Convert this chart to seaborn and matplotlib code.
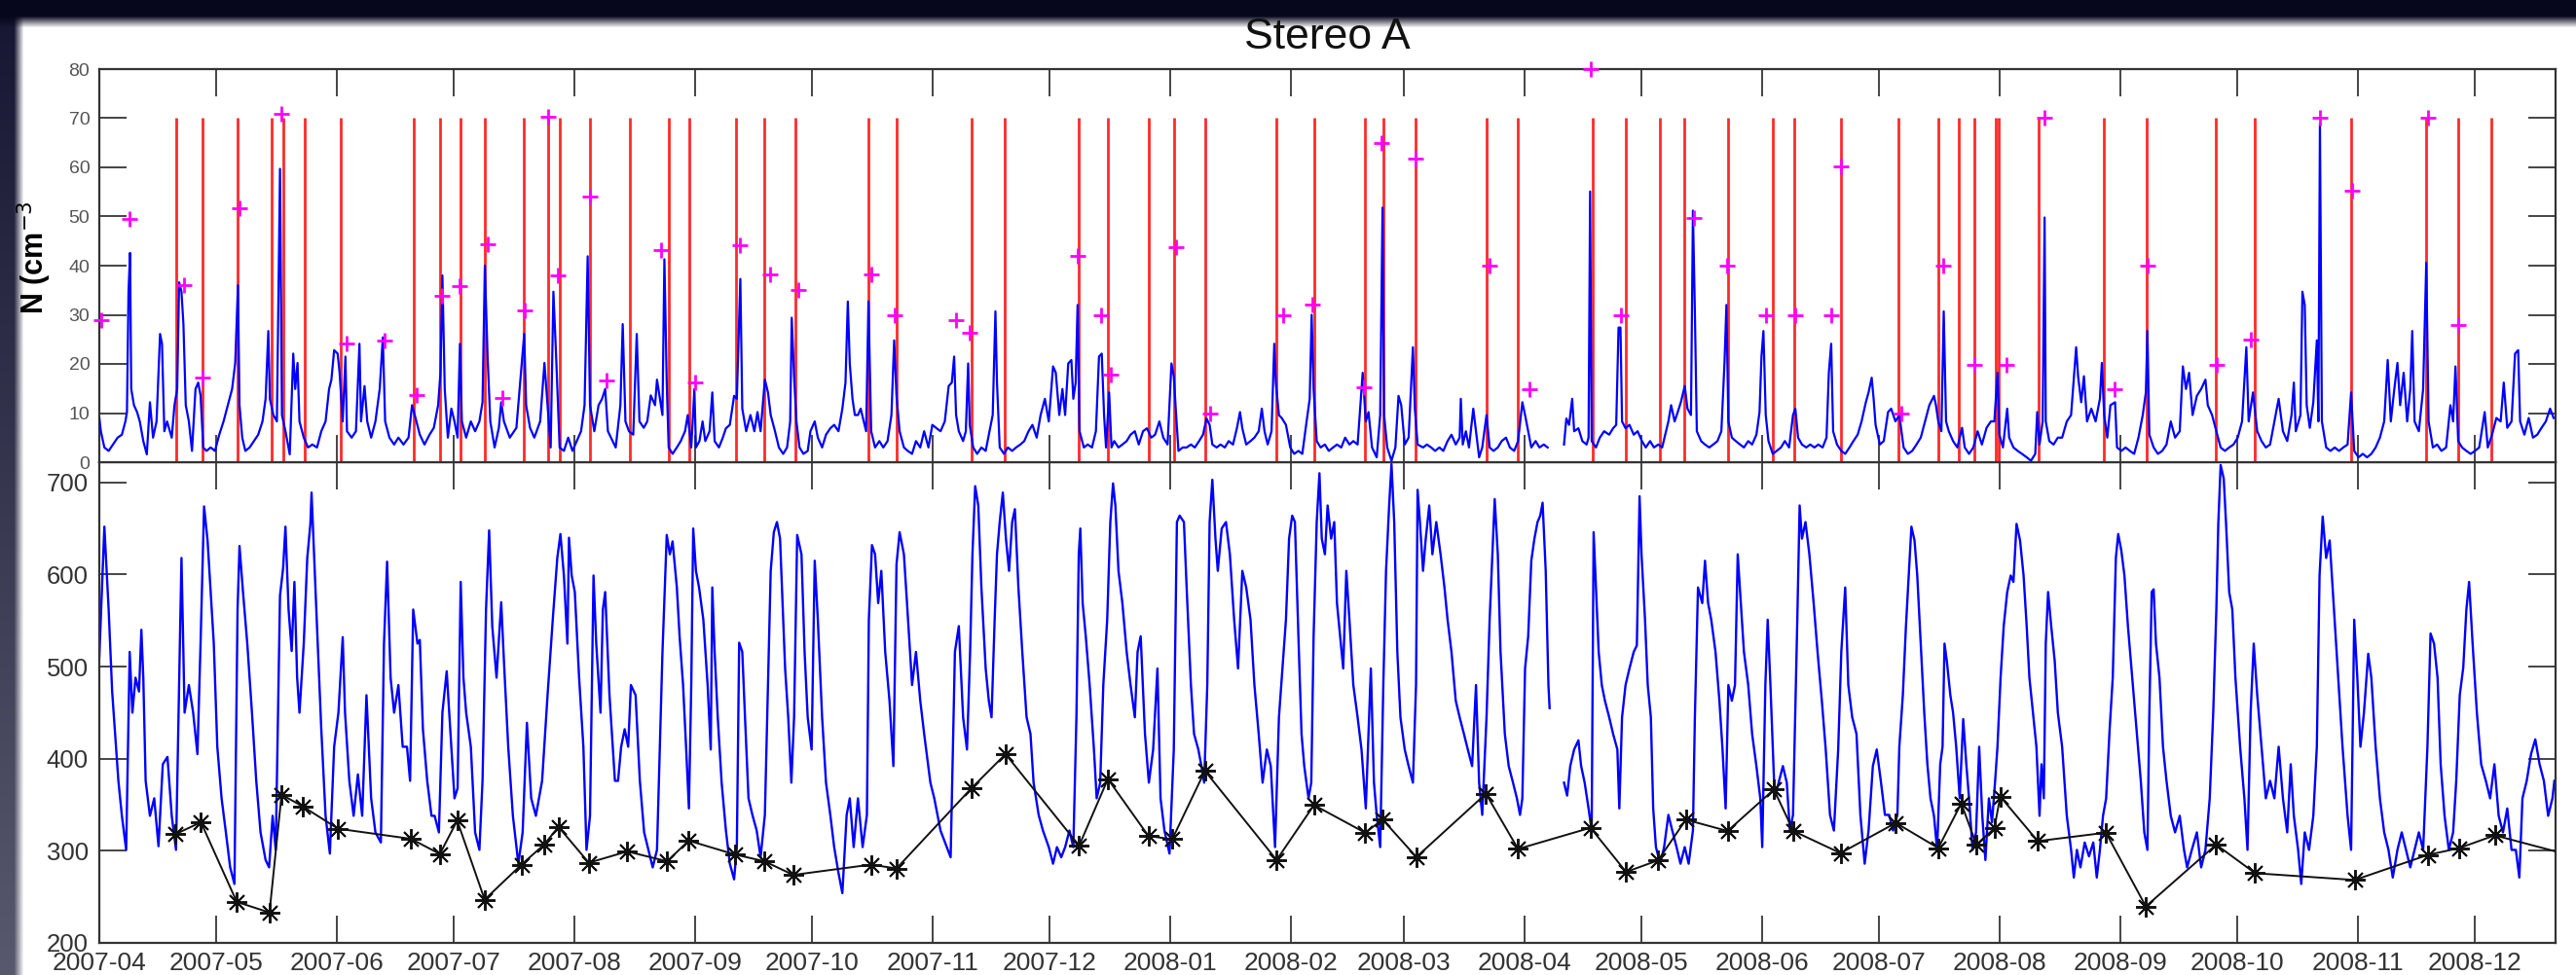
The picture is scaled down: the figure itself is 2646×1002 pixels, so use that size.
import numpy as np
import pandas as pd
import matplotlib
matplotlib.use("Agg")
import matplotlib.pyplot as plt
import matplotlib.dates as mdates
import seaborn as sns

plt.rcParams['font.family'] = ['Liberation Sans', 'DejaVu Sans']

# ---------------- data (days since 2007-04-01) ----------------
START = pd.Timestamp("2007-04-01")
END_DAY = 630.7
GAP_SPLIT = 374.0   # data gap in both series around day 372-376

title_text = "Stereo A"
density_label = "N (cm$^{-3}$"
density_ticks = [0, 10, 20, 30, 40, 50, 60, 70, 80]
speed_ticks = [200, 300, 400, 500, 600, 700]

# solar wind density N (cm^-3)
density_pairs = [
(0,9),(0.4,6.3),(1.3,3),(2.4,2.3),(3.5,3.6),(4.7,5),(5.8,5.6),(6.7,8.3),(7.1,10.2),(7.5,34.7),(7.9,42.6),(8.2,14.9),(8.9,11.6),(9.7,10.2),(10.4,8.3),(11.3,4.3),(12.2,1.6),(13,12.2),(13.8,5),(14.7,8.3),(15.6,26.1),(16.1,24.1),(16.7,6.3),(17.4,8.3),(18.6,5),(19.3,11.6),(20,14.9),(20.5,36.6),(21.1,34.7),(21.6,28.1),(22.2,11.6),(23,8.3),(23.8,2.3),(24.7,14.9),(25.4,16.2),(26,13.6),(26.7,3),(27.5,2.3),(28.6,3),(29.7,2.3),(30.8,5.6),(31.9,8.3),(33,11.6),(34.1,14.9),(34.9,20.2),(35.6,36),(36,11.6),(36.7,5),(37.5,2.3),(38.6,3),(39.7,4.3),(40.8,5.6),(41.9,8.3),(42.7,12.9),(43.4,26.7),(43.8,12.9),(44.7,9.6),(45.6,8.3),(46.4,59.7),(46.9,9.6),(47.8,6.3),(48.9,1.6),(49.8,22.1),(50.3,14.9),(50.9,20.2),(51.4,8.3),(52.5,5),(53.6,3),(54.7,3.6),(55.9,3),(57,6.3),(58.1,8.3),(59,14.9),(59.6,16.8),(60.3,22.8),(61.2,22.1),(61.7,18.2),(62.5,8.3),(63.2,21.5),(63.6,6.3),(64.8,5),(65.9,6.3),(66.8,24.1),(67.2,8.3),(68.1,15.5),(68.8,8.3),(69.8,5),(70.9,8.3),(72,14.9),(72.8,25.4),(73.4,8.3),(74.5,5),(75.7,3.6),(76.8,5),(78.1,3.6),(79.4,5),(80.3,11.6),(81.2,9),(82.3,5.6),(83.5,3.6),(84.8,5.6),(85.9,7),(87,11.6),(87.6,18.2),(88.1,38),(88.7,14.9),(89.5,5),(90.4,10.9),(91.2,8.3),(92,5),(92.6,24.1),(93.1,8.3),(94.2,5),(95.4,8.3),(96.5,6.3),(97.6,8.3),(98.4,12.2),(99,40),(99.7,21.5),(100.4,8.3),(101.5,3),(102.6,7),(103.2,12.2),(103.9,8.3),(105.4,5),(107.1,7),(108.2,17.5),(109.1,26.1),(109.6,11.6),(110.6,7),(111.7,5),(113.2,8.3),(114.3,20.2),(115.1,11.6),(115.9,3),(116.6,34.7),(117.3,21.5),(118.2,3),(119.3,2.3),(120.4,5),(121.5,2.3),(122.6,4.3),(123.7,6.3),(124.6,11.6),(125.4,41.9),(126,11.6),(127.1,6.3),(128.2,11.6),(129.1,12.9),(129.9,14.9),(130.6,6.3),(131.8,4.3),(132.6,3),(133.8,11.6),(134.4,28.1),(135.1,8.3),(136,6.3),(137.1,5.6),(138,26.1),(138.7,8.3),(139.8,7),(140.7,8.3),(141.6,13.6),(142.7,11.6),(143.2,16.8),
(144.6,9.6),(145.1,41.3),(145.7,16.2),(146.2,3),(147.2,1.7),(148.3,3),(149.3,4.3),(150.4,6.3),(151.1,9.6),(152,3),(152.8,14.9),(153.2,3),(154.1,4.3),(154.9,8.3),(155.6,4.3),(156.7,6.3),(157.4,14.2),(158,4.3),(159.1,3),(160.1,5),(160.9,6.9),(161.9,7.6),(163,13.5),(163.7,12.9),(164.6,37.3),(165.1,10.9),(166.1,6.3),(167.2,9.6),(168.2,6.3),(169,10.2),(169.8,6.3),(170.9,16.8),(171.7,14.2),(172.4,9.6),(173.5,6.3),(174.5,3),(175.6,1.7),(176.6,3),(177.4,8.3),(177.8,29.4),(178.4,17.5),(179,8.3),(179.8,3),(180.8,1.7),(181.9,2.3),(182.6,6.3),(183.7,8.3),(184.5,5),(185.6,3),(186.6,5.6),(187.7,6.9),(188.7,7.6),(189.8,6.3),(190.8,10.9),(191.6,16.2),(192.2,32.7),(192.7,20.1),(193.4,12.9),(194,9.6),(194.8,9.6),(195.5,10.9),(196.3,8.3),(196.9,6.3),(197.5,32.7),(198.2,6.3),(199.2,3),(200.3,4.3),(201.3,3),(202.4,4.3),(203.4,9.6),(204.1,24.8),(204.7,13.5),(205.5,6.3),(206.6,3),(207.6,2.3),(208.7,1.7),(209.7,4.3),(210.8,3),(211.8,6.3),(212.9,3),(213.9,7.6),(215,6.9),(216,6.3),(217.1,8.3),(218.1,15.5),(218.9,16.2),(219.5,21.5),(220,9.6),(220.7,6.3),(221.8,4.3),(222.5,6.3),(223.1,20.1),(223.5,7.6),(224.4,3),(225.4,1.7),(226.5,3),(227.6,2.3),(228.6,6.3),(229.4,9.6),(230.1,30.7),(230.5,16.2),(231.2,3),(232.3,1.7),(233.3,3),(234.4,2.3),(235.4,3),(236.5,3.6),(237.5,4.3),(238.6,6.3),(239.6,7.6),(240.7,5),(241.7,9.6),(242.8,12.9),(243.8,8.3),(244.9,19.5),(245.6,18.2),(246.5,9.6),(247.3,14.9),(248,9.6),(248.8,20.1),(249.6,20.8),(250.1,12.9),(250.7,16.2),(251.2,32),(251.7,6.3),(252.8,3),(253.8,3.6),(254.9,3),(255.9,6.3),(256.7,21.5),(257.4,22.1),(258,9.6),(258.5,3),(259.3,14.2),(259.9,3),(260.6,4.3),(261.7,3),(262.7,3.6),(263.8,4.3),(264.8,5.6),(265.9,6.3),(266.9,3.6),(268,6.3),(269,6.9),(270.1,5),(271.1,5.6),(272.2,8.3),(273.2,5),(274.3,3.6),(275.3,20.1),(275.9,17.5),(276.5,9.6),(277.1,2.3),(278.2,3),(279.2,3),(280.3,3.6),(281.3,3),(282.4,4.3),(283.4,5.6),(284.3,8.9),(285.1,7.6),(285.8,3.6),(286.9,3),(287.9,3.6),(289,3),(290,4.3),(291.1,3.6),(292.1,6.9),(292.9,10.2),(293.5,6.9),(294.5,3.6),(295.6,4.3),(296.6,5),(297.7,6.3),(298.5,10.9),(299.2,6.3),(300,3.6),(301,6.3),(301.7,24.1),(302.1,16.2),(302.9,9.6),(303.7,8.9),
(304.7,7.6),(305.8,3),(306.8,1.7),(307.9,2.3),(308.9,1.7),(310,8.3),(310.8,12.9),(311.3,30),(311.8,14.9),(312.6,4.3),(313.6,3),(314.7,3.6),(315.7,2.3),(316.8,3),(317.8,3.6),(318.9,3),(319.9,5),(321,3.6),(322,4.3),(323.1,3.6),(324.4,18.2),(325.2,8.3),(325.9,10.2),(326.8,3),(328,1),(328.9,9.6),(329.5,51.8),(329.9,9.6),(330.7,3),(331.8,0.3),(332.8,3),(333.6,13.5),(334.3,11.6),(335.2,3.6),(336.2,5),(337.3,23.4),(337.8,10.9),(338.5,3.6),(339.9,3),(340.9,3.6),(342,3),(343,2.3),(344.1,3),(345.1,2.3),(346.2,4.3),(347.2,5.6),(348.3,3.6),(349.3,5),(349.6,12.9),(350.1,3.6),(350.9,6.3),(351.7,3),(352.8,10.9),(353.5,6.3),(354.3,1),(355.1,3),(356.2,9.6),(357,3),(358,2.3),(359.1,3),(360.1,4.3),(361.2,5),(362.2,3),(363.3,2.3),(364.3,4.3),(365.4,12.2),(366.1,9.6),(366.9,6.3),(367.7,3),(368.8,4.3),(369.8,3),(370.9,3.6),(371.9,3),
(376.1,3.6),(376.7,8.9),(377.4,7.6),(378.2,12.9),(378.7,6.3),(379.8,6.9),(380.8,4.3),(381.9,3.6),(382.4,5),(382.8,55.1),(383.2,4.3),(384.3,3),(385.3,5),(386.4,6.3),(387.7,5.6),(388.7,6.9),(389.5,7.6),(390.1,27.4),(390.6,27.4),(391,8.3),(391.9,6.9),(392.9,7.6),(394,5.6),(395,6.3),(396.1,4.3),(397.1,3),(398.2,4.3),(399.2,3),(400.3,3.6),(401.3,3),(402.9,8.3),(403.6,11.6),(404.5,8.3),(405.3,10.2),(406.1,12.2),(407.1,15.5),(407.8,10.9),(408.7,9.6),(409.2,51.2),(409.7,30.7),(410.2,6.3),(411.3,4.3),(412.3,3.6),(413.4,3),(414.4,3.6),(415.5,4.3),(416.5,6.3),(417.3,20.1),(417.8,32),(418.3,8.3),(419.2,5),(420.2,4.3),(421.3,3.6),(422.3,3),(423.4,4.3),(424.4,3.6),(425.5,5.6),(426.3,10.2),(426.8,21.5),(427.3,26.7),(427.9,9.6),(428.6,4.3),(429.7,1.7),(430.7,2.3),(431.8,3),(432.8,4.3),(433.9,3),(434.9,9.6),(435.5,10.9),(436.2,5),(437.2,3.6),(438.3,3),(439.3,3.6),(440.4,3),(441.4,3.6),(442.5,3),(443.5,5),(444.1,18.2),(444.7,24.1),(445.2,6.3),(446.2,3.6),(447.3,2.3),(448.3,1.7),(449.4,3),(450.4,4.3),(451.5,5.6),(452.5,8.3),(453.6,12.2),(454.3,14.2),(455.1,17.2),(455.6,12.9),(456.1,7.6),(457.2,3.6),(458.2,4.3),(459.3,10.2),(460.1,10.9),(461.2,8.3),
(462.2,9.6),(463.3,3),(464.4,1.7),(465.5,2.3),(466.6,3.6),(467.7,5),(468.8,8.3),(469.9,11.6),(471.1,13.5),(471.6,11.6),(472.2,8.3),(473,6.3),(473.6,30.7),(474.2,8.3),(474.9,6.3),(476,4.3),(477.1,3),(478.3,7),(479,3),(480.1,1.7),(481.2,3),(482.3,6.3),(483.4,3.6),(484.6,7),(485.7,8.3),(486.6,8.3),(487.4,18.2),(487.9,5.6),(488.8,3),(489.9,10.9),(490.4,5),(491.5,3),(492.6,2.3),(493.7,1.7),(494.9,1),(496,0.3),(497.1,1.7),(497.6,10.2),(498.2,3.6),(499,8.3),(499.5,49.8),(499.8,8.3),(500.7,4.3),(501.8,3.6),(502.9,5),(504,5),(505.2,8.3),(506.3,9.6),(507.6,23.4),(508.1,17.5),(508.9,12.2),(509.6,17.5),(510.4,8.3),(511.5,10.9),(512.6,8.3),(513.7,12.9),(514.2,20.2),(514.8,9.6),(515.6,5),(516.4,11.6),(517.6,12.2),(518.1,3),(519.2,2.3),(520.3,3),(521.4,2.3),(522.5,1.7),(523.6,5),(524.7,9.6),(525.5,14.2),(525.9,26.7),(526.4,5.6),(527.5,3),(528.6,1.7),(529.7,2.3),(530.8,3.6),(531.9,8.3),(533,5),(534.2,6.3),(535,19.5),(535.8,14.9),(536.6,18.2),(537.5,9.6),(538.6,13.5),(539.7,14.9),(540.8,16.8),(541.4,11.6),(542.5,9.6),(543.6,6.3),(544.7,3),(545.8,2.3),(546.9,3),(548,3.6),(549.1,5),(550.2,8.3),(551.3,23.4),(551.9,8.3),(553,14.2),(554.1,6.3),(555.2,4.3),(556.3,3),(557.4,3.6),(558.5,8.3),(559.6,12.9),(560.7,6.3),(561.8,4.3),(562.9,9.6),(563.5,16.2),(564,6.3),(565.2,9.6),(565.7,34.7),(566.3,32),(566.8,11.6),(567.6,7),(568.5,12.2),(569.4,24.8),(569.8,8.3),(570.2,69),(570.7,8.3),(571.8,3),(572.9,2.3),(574,3),(575.1,2.3),(576.2,3),(577.3,3.6),(578.2,14.2),(579,2.3),(580.1,1),(581.2,1.7),(582.3,1),(583.4,1.7),(584.5,3),(585.6,5),(586.7,8.3),(587.6,20.8),(588.4,8.3),(589.3,14.9),(590.1,20.2),(590.8,11.6),(591.7,18.2),(592.6,8.3),(593.4,14.9),(593.9,26.7),(594.5,8.3),(595.6,6.3),(596.7,14.9),(597.5,40.6),(598.1,8.3),(599.2,3),(600.3,3.6),(601.4,2.3),(602.6,3),(603.7,11.6),(604.4,8.3),(605,19.5),(605.7,4.3),(606.7,3),(607.8,2.3),(608.9,1.7),(610,2.3),(611.1,3),(612.5,10.2),(613.3,3),(614.4,5.6),(615.5,9),(616.6,8.3),(617.4,16.2),(618.3,7),(619.4,8.3),(620.3,22.1),(621.1,22.8),(621.6,8.3),(622.7,5.6),(623.8,9),(624.9,5),(626,5.6),(627.1,7),(628.2,8.3),(629.3,10.9),(630.2,9),
]

# solar wind speed (km/s)
speed_pairs = [
(0,510),(1.3,652),(2.4,562),(3.3,473),(4.1,424),(4.9,376),(5.8,338),(6.9,301),(7.8,516),(8.5,450),(9.3,488),(10.2,473),(10.8,540),(11.3,488),(11.9,376),(13,338),(14.1,357),(15.2,305),(16.3,394),(17.5,402),(18.6,338),(19.7,301),(21.1,618),(21.9,450),(23,480),(24.1,450),(25.2,405),(26,525),(26.9,674),(27.8,637),(28.6,581),(29.4,525),(30.3,413),(31.4,357),(32.5,320),(33.6,282),(34.7,264),(35.5,562),(36,631),(36.9,581),(38,525),(39.2,450),(40.3,376),(41.4,320),(42.7,290),(43.6,282),(44.5,338),(45.3,301),(46.4,577),(47.2,607),(47.8,652),(48.6,562),(49.4,517),(50.1,592),(50.8,488),(51.4,450),(52.5,525),(53.4,618),(54.2,655),(54.5,689),(55,637),(55.9,544),(57,432),(58.1,338),(59.2,297),(60.3,413),(61.4,450),(62.5,532),(63.1,450),(64.2,376),(65.3,338),(66.4,383),(67.5,338),(68.6,469),(69.8,357),(70.9,320),(72.3,309),(73.1,525),(73.9,614),(74.8,488),(75.7,450),(76.8,480),(77.9,413),(79,413),(79.8,376),(80.6,562),(81.7,525),(82.3,529),(83.1,432),(84.2,376),(85.3,338),(86.1,338),(87.2,320),(88.1,450),(89.2,495),(90.4,413),(91.2,357),(92,368),(92.8,592),(93.5,488),(94.2,450),(95.4,413),(96.5,320),(97.6,301),(98.4,376),(99.3,562),(100.1,648),(100.9,544),(102,488),(103.2,570),(103.9,506),(105,413),(106.2,338),(107.6,286),(108.7,320),(109.8,439),(110.9,357),(112.1,338),(113.7,376),(115.1,469),(116.5,555),(117.6,618),(118.4,644),(119.3,599),(120.2,525),(120.6,640),(121.3,599),(122.1,581),(123.2,488),(124.3,413),(125.1,301),(126,338),(126.9,599),(127.6,525),(128.7,450),(129.3,562),(129.9,581),(131,469),(132.4,376),(133.2,376),(134,413),(134.9,432),(135.8,413),(136.5,480),(137.7,469),(138.8,376),(139.9,320),(141,301),(142.1,282),(143.2,301),
(144.6,515),(145.7,643),(146.5,622),(147.2,636),(148.3,586),(149,533),(149.9,480),(150.7,410),(151.4,346),(152,480),(152.5,650),(153.2,604),(154,586),(155.1,551),(156.2,480),(157,410),(157.4,586),(158,516),(158.8,445),(159.8,374),(160.9,322),(161.9,286),(163,269),(163.7,304),(164.3,526),(165.1,516),(165.8,445),(166.7,357),(167.7,339),(168.8,322),(169.8,293),(170.9,339),(171.7,480),(172.4,604),(173.2,646),(174,657),(174.8,639),(175.6,551),(176.1,498),(176.9,445),(177.7,374),(178.4,445),(179.2,643),(180.3,622),(181.1,516),(181.9,445),(182.9,410),(183.7,615),(184.5,551),(185.6,445),(186.6,374),(187.7,339),(188.7,304),(189.8,276),(190.8,254),(191.9,339),(192.7,357),(193.7,304),(194.8,357),(196,304),(197.1,339),(197.6,551),(198.4,632),(199.2,622),(200,569),(200.8,604),(201.8,516),(202.9,463),(203.9,392),(204.7,611),(205.5,646),(206.6,622),(207.4,569),(208.7,480),(209.7,516),(210.8,463),(211.8,427),(213.4,374),(214.4,357),(216,322),(217.6,304),(218.6,293),(219.7,516),(220.7,544),(221.8,445),(222.8,410),(223.6,516),(224.2,622),(224.9,696),(225.7,675),(226.5,586),(227.6,498),(228.4,463),(229.1,445),(229.9,551),(230.5,622),(231.2,657),(232,689),(232.8,639),(233.6,604),(234.4,657),(235.1,671),(236,586),(237,516),(238.1,445),(239.1,427),(239.9,374),(241.2,339),(242.3,322),(243.8,304),(244.9,286),(245.9,304),(247,293),(248,304),(249.1,322),(250.1,304),(250.9,445),(251.5,622),(251.9,650),(252.5,569),(253.3,533),(254.3,480),(255.4,410),(256.1,357),(257,374),(257.8,480),(258.8,551),(259.6,657),(260.3,699),(260.9,675),(261.7,604),(262.7,569),(263.8,516),(264.8,480),(265.9,445),(266.6,516),(267.4,533),(268.5,427),(269.5,374),(270.6,410),(271.7,498),(272.5,357),(273.5,322),(274.8,297),(275.9,410),(276.7,657),(277.4,664),(278.5,657),(279.2,586),(280.3,480),(281.1,427),(282.2,410),(283,392),(283.7,374),(284.5,480),(285.1,657),(285.8,703),(286.6,639),(287.2,604),(288.2,650),(289.3,657),(290.3,622),(291.4,551),(292.4,498),(293.5,604),(294.5,586),(295.6,551),(296.6,480),(297.7,427),(298.7,374),(299.8,410),(300.8,392),(301.9,304),(302.9,445),
(304.7,551),(305.5,639),(306.3,664),(307,657),(307.9,533),(308.7,427),(309.4,392),(310.5,357),(311.2,374),(311.8,533),(312.6,657),(313.3,710),(313.9,639),(314.7,622),(315.4,675),(316.3,639),(317.1,657),(317.8,569),(318.6,533),(319.4,498),(320.2,604),(321,551),(322,480),(323.1,445),(324.1,410),(325.2,346),(325.9,427),(326.5,498),(327.3,374),(328,339),(328.9,304),(329.7,480),(330.4,604),(331.2,675),(331.8,720),(332.5,657),(333.3,516),(334.1,445),(335.2,410),(336.2,392),(337.3,374),(338.1,480),(338.5,692),(339.1,657),(339.9,604),(340.6,639),(341.5,675),(342.3,622),(343.3,657),(344.4,622),(345.4,586),(346.2,551),(347.2,516),(348.3,463),(349.3,445),(350.4,427),(351.4,410),(352.5,392),(353.5,480),(354.3,374),(355.1,339),(356.2,445),(357,551),(357.7,622),(358.3,682),(359.1,622),(359.8,516),(360.9,427),(361.9,392),(363,374),(364,357),(364.8,339),(365.4,357),(366.1,498),(366.9,533),(367.7,615),(368.5,639),(369.3,657),(370,664),(370.6,678),(371.4,604),(372.1,480),(372.4,455),
(376.1,374),(376.9,360),(377.7,392),(378.7,410),(379.8,420),(380.5,392),(381.4,374),(382.4,346),(383.2,322),(383.7,646),(384.3,586),(385,516),(385.8,480),(386.6,463),(387.7,445),(388.7,427),(389.8,410),(390.3,346),(391,445),(391.9,480),(392.9,498),(394,516),(394.8,523),(395.5,685),(396,622),(396.9,551),(397.6,480),(398.4,445),(399,346),(399.7,304),(400.8,286),(401.8,304),(402.9,339),(403.9,322),(405,304),(406,286),(407.1,304),(408.1,286),(409.2,322),(409.7,445),(410.5,586),(411.6,569),(412.3,615),(413.1,569),(413.9,551),(415,516),(416,463),(416.8,410),(417.6,346),(418.3,480),(419.2,463),(420,480),(420.7,622),(421.5,569),(422.3,516),(423.4,480),(424.4,427),(425.5,392),(426.5,357),(427,304),(427.8,480),(428.4,551),(429.1,480),(430.2,357),(431.2,374),(432.3,392),(433.3,374),(434.1,322),(434.9,339),(436,551),(436.6,675),(437.2,639),(438.1,657),(439.1,622),(440.2,569),(441.2,516),(442.3,463),(443.3,410),(444.4,339),(445.4,322),(446.5,410),(447.3,516),(448.3,586),(449.1,480),(450.1,445),(451.2,427),(452.2,339),(453.3,286),(454.3,322),(455.4,392),(456.4,410),(457.5,374),(458.5,339),(459.6,339),(460.6,322),(461.7,339),
(462.2,413),(463.1,469),(463.9,544),(464.6,599),(465.3,652),(466.1,637),(466.8,599),(467.7,525),(468.6,450),(469.4,394),(470.2,357),(471.1,338),(471.9,301),(472.7,394),(473.3,413),(473.8,525),(474.4,506),(475.3,469),(476,450),(476.8,413),(477.7,357),(478.6,443),(479.4,394),(480.1,357),(481,301),(481.9,320),(482.7,413),(483.5,338),(484.3,290),(485.2,357),(486,331),(486.8,376),(487.4,413),(488.2,488),(489,544),(489.9,581),(490.8,599),(491.5,592),(492.3,655),(493.2,637),(494.1,599),(494.9,544),(495.6,488),(496.5,450),(497.4,413),(498.2,338),(498.7,394),(499.3,357),(499.8,525),(500.4,581),(501.2,544),(502.1,506),(502.9,450),(504,413),(505.2,338),(506.3,301),(507,271),(507.8,301),(508.7,282),(509.8,309),(510.9,294),(512,309),(512.9,271),(513.7,301),(514.5,338),(515.3,357),(516.2,432),(517,488),(517.8,618),(518.4,644),(519.2,626),(520,599),(520.9,544),(522,488),(523.1,432),(524.2,376),(525.1,320),(525.9,301),(526.4,450),(527,581),(527.5,584),(528.1,525),(529,488),(529.9,413),(530.8,376),(531.9,338),(533,320),(534.2,338),(535.3,301),(536.1,282),(537.3,301),(538.6,320),(539.7,282),(540.8,301),(541.9,357),(542.8,450),(543.6,562),(544.1,655),(544.7,719),(545.5,704),(546.1,655),(546.9,581),(547.7,562),(548.5,488),(549.7,413),(550.8,357),(551.6,301),(552.4,450),(553.2,525),(554.1,469),(555.2,413),(556.3,357),(557.4,376),(558.5,357),(559.6,413),(560.7,357),(561.8,320),(562.7,394),(563.5,338),(564.6,301),(565.4,264),(566.3,320),(567.4,301),(568.5,338),(569.4,413),(570.1,599),(570.9,663),(571.8,618),(572.7,637),(573.8,562),(574.9,488),(576,413),(577.3,338),(578.2,301),(579,551),(579.8,488),(580.6,413),(581.5,450),(582.6,514),(583.4,488),(584.5,413),(585.6,357),(586.7,320),(587.8,301),(588.9,271),(590.1,301),(591.2,320),(592.3,301),(593.4,282),(594.5,301),(595.6,320),(596.7,301),(597.8,413),(598.6,536),(599.5,525),(600.4,488),(601.2,394),(602.2,338),(603.3,301),(604.4,320),(605.2,376),(606.1,469),(607,499),(607.8,562),(608.5,592),(609.4,525),(610.5,450),(611.6,394),(612.8,376),(613.9,357),(615,394),(616.1,338),(617.2,320),(618.3,346),(619.4,301),(620.5,301),(621.4,271),(622.2,357),(623.3,376),(624.4,405),(625.5,421),(626.6,394),(627.7,376),(628.8,338),(629.9,357),(630.4,376),
]

# event times (red lines, days)
event_days = [19.75, 26.5, 35.5, 44.25, 47.25, 52.75, 62, 80.75, 87.5, 92.75, 99, 109, 115.25,
              118.25, 126, 136.25, 146.25, 151.55, 163.55, 170.8, 178.8, 197.55, 204.7, 223.95,
              232.6, 251.6, 258.9, 269.5, 276, 283.9, 302.3, 312.1, 324.9, 329.65, 337.95, 356.15,
              364.3, 383.5, 392.05, 400.6, 406.9, 418.1, 429.7, 435.1, 447.1, 462, 472.3, 477.5,
              481.5, 486.85, 487.75, 497.85, 514.7, 525.6, 543.45, 553.55, 578.3, 597.5, 605.6, 614.25]
event_top = 70

# peak density markers (magenta +)
peak_days = [0.4, 7.75, 21.75, 26.4, 35.9, 46.8, 63.45, 73.25, 81.4, 88.1, 92.6, 99.75, 103.6, 109.3,
             115.25, 117.7, 126.1, 130.2, 144.15, 153.1, 164.5, 172.2, 179.4, 198.15, 204.15, 220.05,
             223.4, 251.3, 257.3, 259.8, 276.55, 285.3, 303.9, 311.55, 324.8, 329.3, 337.95, 356.9,
             367.1, 382.9, 390.6, 409.5, 417.9, 427.9, 435.5, 444.65, 447.1, 462.65, 473.4, 481.5,
             489.75, 499.5, 517.5, 525.9, 543.7, 552.4, 570.2, 578.5, 597.9, 605.7]
peak_vals = [29, 49.5, 36, 17.2, 51.7, 70.8, 24.1, 24.7, 13.7, 33.9, 35.8, 44.3, 13.1, 30.8,
             70.2, 38.0, 54, 16.7, 43.1, 16.2, 44.2, 38.2, 35.1, 38.2, 30, 29,
             26.3, 42, 30, 17.8, 43.8, 9.9, 30, 32, 15.2, 65, 61.7, 40,
             14.9, 80, 30, 49.8, 40, 30, 30, 30, 60.2, 9.9, 40, 19.9,
             19.9, 70, 14.9, 40, 19.9, 24.9, 70, 55.2, 70, 27.9]

# minimum speed at each event (black asterisks)
vmin_days = [19.5, 26.1, 35.3, 43.7, 46.8, 52.3, 61.3, 80.0, 87.45, 91.9, 98.95, 108.4, 114.2, 117.9,
             125.7, 135.55, 145.8, 151.35, 163.2, 170.8, 178.2, 198.15, 204.7, 223.95, 232.7, 251.6,
             258.98, 269.4, 275.5, 283.9, 302.3, 311.9, 325, 329.55, 338.2, 356.05, 364.3, 382.9,
             392.05, 400.25, 407.4, 418.1, 430, 434.98, 447.1, 461.3, 472.2, 478.1, 482, 486.6,
             488.1, 497.75, 515.25, 525.5, 543.55, 553.55, 579.1, 597.9, 606, 615.1]
vmin_vals = [318, 331, 244.5, 233, 361, 348, 324, 313, 296.6, 332.8, 247, 285, 306.7, 326,
             287, 299.3, 288.6, 311, 296, 288.6, 273.8, 285, 280.8, 368, 405, 305.6,
             378, 316, 312.6, 386.8, 290, 349.7, 319.7, 333.8, 293.2, 362, 302, 325,
             277, 289.7, 333.8, 321.5, 366.6, 321.5, 297.5, 330.3, 303, 351.5, 306.7, 324.3,
             359, 310.5, 319.7, 239.6, 306.7, 275.7, 268.3, 295.5, 303, 316.8]
vmin_tail = (631.0, 299.0)   # line continues to the right edge

# ---------------- build frames ----------------
def to_dt(days):
    return START + pd.to_timedelta(np.asarray(days, dtype=float), unit="D")

dens = pd.DataFrame(density_pairs, columns=["day", "val"])
dens["t"] = to_dt(dens["day"])
dens["seg"] = (dens["day"] > GAP_SPLIT).astype(int)

spd = pd.DataFrame(speed_pairs, columns=["day", "val"])
spd["t"] = to_dt(spd["day"])
spd["seg"] = (spd["day"] > GAP_SPLIT).astype(int)

vmin = pd.DataFrame({"day": vmin_days + [vmin_tail[0]], "val": vmin_vals + [vmin_tail[1]]})
vmin["t"] = to_dt(vmin["day"])

# ---------------- figure ----------------
W, H = 2646, 1002
fig = plt.figure(figsize=(W / 100, H / 100), dpi=100)
fig.patch.set_facecolor("white")

# dark slide frame (top and left)
yy = np.arange(H, dtype=float)[:, None] * np.ones((1, W))
xx = np.ones((H, 1)) * np.arange(W, dtype=float)[None, :]
img = np.ones((H, W, 3))
left_a = np.clip((24.0 - xx) / 10.0, 0, 1)[..., None]
frac = (yy / H)[..., None]
left_col = np.array([22, 22, 50]) / 255 * (1 - frac) + np.array([88, 88, 110]) / 255 * frac
img = img * (1 - left_a) + left_col * left_a
top_a = np.clip((28.0 - yy) / 12.0, 0, 1)[..., None]
top_col = np.array([6, 6, 28]) / 255
img = img * (1 - top_a) + top_col * top_a
bg = fig.add_axes([0, 0, 1, 1], zorder=-5)
bg.imshow(img, aspect="auto", interpolation="bilinear")
bg.set_axis_off()

L, R = 102, 2625
T1, B1, B2 = 71, 475, 969
ax1 = fig.add_axes([L / W, 1 - B1 / H, (R - L) / W, (B1 - T1) / H])
ax2 = fig.add_axes([L / W, 1 - B2 / H, (R - L) / W, (B2 - B1) / H])

x0 = START
x1 = START + pd.Timedelta(days=END_DAY)

# --- top panel: density ---
ax1.vlines(to_dt(event_days), 0, event_top, colors="#ff2a2a", linewidth=2.0, zorder=2)
sns.lineplot(data=dens, x="t", y="val", units="seg", estimator=None, sort=True,
             color="#0000ff", linewidth=1.6, ax=ax1, legend=False, zorder=3)
ax1.plot(to_dt(peak_days), peak_vals, linestyle="none", marker="+", markersize=12,
         markeredgewidth=2.0, color="#ff00ff", zorder=4, clip_on=False)
ax1.set_ylim(0, 80)
ax1.set_yticks(density_ticks)
ax1.set_ylabel(density_label, fontsize=22, fontweight="bold", color="black")
ax1.yaxis.set_label_coords((55 - L) / (R - L), 0.52)
ax1.set_xlabel("")
ax1.set_title(title_text, fontsize=32, pad=15, color="#111111")

# --- bottom panel: speed ---
sns.lineplot(data=spd, x="t", y="val", units="seg", estimator=None, sort=True,
             color="#0000ff", linewidth=1.7, ax=ax2, legend=False, zorder=2)
sns.lineplot(data=vmin, x="t", y="val", estimator=None, sort=True,
             color="#111111", linewidth=1.4, ax=ax2, legend=False, zorder=3)
ax2.plot(to_dt(vmin_days), vmin_vals, linestyle="none", marker=(8, 2, 0), markersize=15,
         markeredgewidth=1.4, color="#111111", zorder=4)
ax2.set_ylim(200, 722)
ax2.set_yticks(speed_ticks)
ax2.set_ylabel("")
ax2.set_xlabel("")

for ax in (ax1, ax2):
    ax.set_xlim(x0, x1)
    ax.xaxis.set_major_locator(mdates.MonthLocator())
    ax.xaxis.set_major_formatter(mdates.DateFormatter("%Y-%m"))
    ax.tick_params(axis="both", which="major", direction="in", length=20, width=1.4,
                   color="#444444", top=True, right=True)
    for s in ax.spines.values():
        s.set_color("#333333")
        s.set_linewidth(1.6)
    ax.set_facecolor("white")

ax1.tick_params(axis="x", labelbottom=False)
ax1.tick_params(axis="y", labelsize=14, labelcolor="#555555", pad=7)
ax2.tick_params(axis="y", labelsize=18.5, labelcolor="#333333", pad=8)
ax2.tick_params(axis="x", labelsize=19, labelcolor="#333333", pad=6.5)
ax1.set_zorder(2)
ax2.set_zorder(1)

fig.savefig("out.png", dpi=100, facecolor=fig.get_facecolor())
